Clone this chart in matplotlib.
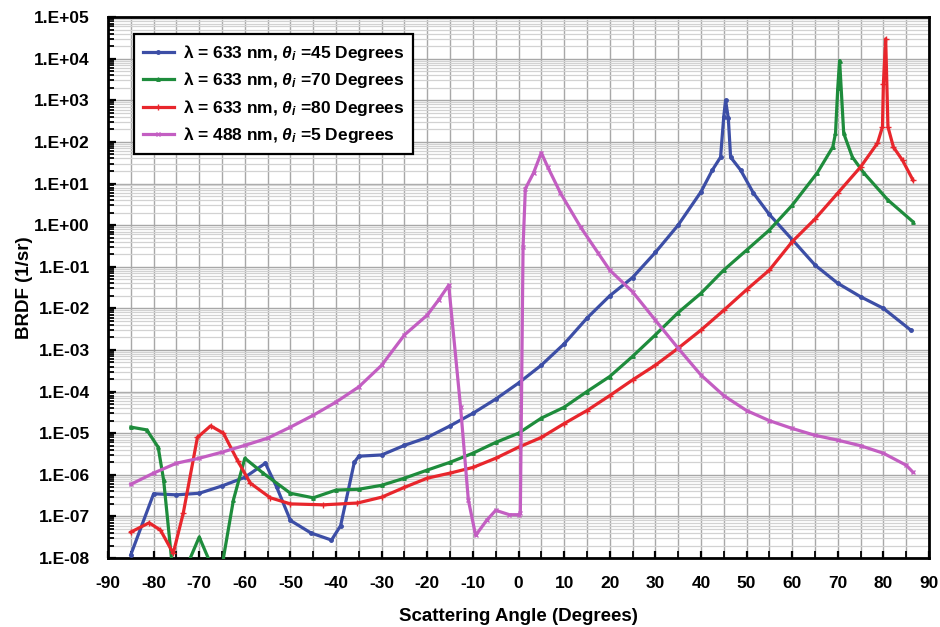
import numpy as np
import matplotlib
matplotlib.use("Agg")
import matplotlib.pyplot as plt
from matplotlib.ticker import FixedLocator, LogLocator, NullFormatter, FuncFormatter

# lambda = 633 nm, theta_i = 45
blue_x = [-85, -80, -75, -70, -65, -60, -55.5, -53, -50, -45.5, -41, -39, -36, -35, -30,
          -25, -20, -15, -10, -5, 0, 5, 10, 15, 20, 25, 30, 35, 40, 42.5, 44.3, 45, 45.4,
          46, 46.5, 48.7, 51.5, 55, 60, 65, 70, 75, 80, 86]
blue_y = [1.2e-8, 3.5e-7, 3.3e-7, 3.6e-7, 5.4e-7, 8.7e-7, 1.9e-6, 5e-7, 8e-8, 4e-8, 2.7e-8,
          6e-8, 2e-6, 2.8e-6, 3e-6, 5.1e-6, 7.9e-6, 1.5e-5, 3e-5, 6.6e-5, 1.6e-4, 4.3e-4,
          1.4e-3, 5.8e-3, 2e-2, 5.5e-2, 0.22, 1.0, 6.3, 21, 43, 400, 1000, 370, 43, 21,
          5.9, 1.8, 0.45, 0.11, 0.04, 0.019, 0.01, 3e-3]

# lambda = 633 nm, theta_i = 70
green_x = [-85, -81.5, -79, -77.8, -76, -74, -70, -66, -64.7, -62.5, -60, -56, -50, -45,
           -40, -35, -30, -25, -20, -15, -10, -5, 0, 5, 10, 15, 20, 25, 30, 35, 40, 45, 50,
           55, 60, 65.5, 68.9, 69.5, 70, 70.4, 71.3, 73.2, 75.7, 81, 86.5]
green_y = [1.4e-5, 1.2e-5, 4.6e-6, 7.4e-7, 8e-9, 3e-9, 3.2e-8, 3e-9, 1e-8, 2.5e-7, 2.5e-6,
           1.1e-6, 3.6e-7, 2.8e-7, 4.3e-7, 4.5e-7, 5.6e-7, 8.3e-7, 1.3e-6, 2e-6, 3.3e-6,
           6e-6, 1e-5, 2.3e-5, 4.2e-5, 1e-4, 2.3e-4, 7e-4, 2.3e-3, 7.9e-3, 2.3e-2, 8.3e-2,
           0.25, 0.76, 3.0, 18, 75, 160, 2000, 9000, 160, 43, 18, 4, 1.2]

# lambda = 633 nm, theta_i = 80
red_x = [-85, -81, -78.5, -75.7, -73.5, -70.4, -67.5, -64.7, -61.6, -58.8, -54.4, -50,
         -42.8, -35.3, -30, -25, -20, -15, -10, -5, 0, 5, 10, 15, 20, 25, 30, 35, 40, 45,
         50, 55, 60, 65, 70, 75, 78.7, 79.8, 80, 80.5, 81, 82.2, 84.2, 86.5]
red_y = [4.2e-8, 7e-8, 4.7e-8, 1.3e-8, 1.2e-7, 7.9e-6, 1.5e-5, 1e-5, 2.2e-6, 6.3e-7,
         2.8e-7, 2e-7, 1.9e-7, 2.1e-7, 2.9e-7, 5e-7, 8.3e-7, 1.1e-6, 1.5e-6, 2.5e-6,
         4.6e-6, 7.9e-6, 1.7e-5, 3.5e-5, 8e-5, 1.9e-4, 4.3e-4, 1.1e-3, 3e-3, 9e-3, 2.8e-2,
         8.3e-2, 0.4, 1.4, 5.9, 25, 93, 230, 2500, 30000, 230, 75, 36, 12]

# lambda = 488 nm, theta_i = 5
purple_x = [-85, -80, -75, -70, -65, -60, -55, -50, -45, -40, -35, -30, -25, -20, -17.5,
            -15.3, -12.7, -11, -9.4, -7, -5, -2, 0, 0.4, 1.0, 1.5, 3.3, 5, 6.4, 9.2, 13.6,
            17.5, 20, 25, 30, 35, 40, 45, 50, 55, 60, 65, 70, 75, 80, 85, 86.5]
purple_y = [5.9e-7, 1.1e-6, 1.9e-6, 2.5e-6, 3.5e-6, 5.1e-6, 7.6e-6, 1.4e-5, 2.7e-5,
            5.6e-5, 1.3e-4, 4.3e-4, 2.3e-3, 6.9e-3, 1.6e-2, 3.6e-2, 4.2e-5, 2.5e-7, 3.5e-8,
            8e-8, 1.4e-7, 1.1e-7, 1.1e-7, 1.2e-7, 0.3, 7.5, 18, 55, 25, 5.9, 0.9, 0.21,
            8.3e-2, 2.5e-2, 5.2e-3, 1.1e-3, 2.5e-4, 8e-5, 3.5e-5, 2e-5, 1.3e-5, 8.9e-6,
            6.8e-6, 5e-6, 3.3e-6, 1.7e-6, 1.15e-6]

labels = [r"λ = 633 nm, $\theta_i$ =45 Degrees",
          r"λ = 633 nm, $\theta_i$ =70 Degrees",
          r"λ = 633 nm, $\theta_i$ =80 Degrees",
          r"λ = 488 nm, $\theta_i$ =5 Degrees"]

plt.rcParams['font.family'] = ['Liberation Sans', 'DejaVu Sans']
plt.rcParams['font.weight'] = 'bold'
plt.rcParams['axes.unicode_minus'] = False
plt.rcParams['mathtext.fontset'] = 'custom'
plt.rcParams['mathtext.it'] = 'Liberation Sans:italic:bold'
plt.rcParams['mathtext.rm'] = 'Liberation Sans:bold'

fig = plt.figure(figsize=(9.4, 6.27), dpi=100)
ax = fig.add_axes([0.1149, 0.110, 0.8734, 0.8628])

series = [(blue_x, blue_y, '#3c4ea6', 'o', 2.5),
          (green_x, green_y, '#1e8c3c', '^', 2.5),
          (red_x, red_y, '#e8262c', '+', 4),
          (purple_x, purple_y, '#c35ec2', 'x', 3)]
for (xs, ys, c, m, ms), lab in zip(series, labels):
    ax.plot(xs, ys, color=c, lw=2.3, marker=m, ms=ms, mew=1, label=lab, zorder=3)

ax.set_yscale('log')
ax.set_xlim(-90, 90)
ax.set_ylim(1e-8, 1e5)

ax.xaxis.set_major_locator(FixedLocator(np.arange(-90, 91, 10)))
ax.xaxis.set_minor_locator(FixedLocator(np.arange(-85, 90, 10)))
ax.yaxis.set_major_locator(LogLocator(base=10, numticks=20))
ax.yaxis.set_minor_locator(LogLocator(base=10, subs=np.arange(2, 10), numticks=200))
ax.yaxis.set_minor_formatter(NullFormatter())
ax.yaxis.set_major_formatter(FuncFormatter(
    lambda v, p: "1.E{:+03d}".format(int(round(np.log10(v))))))

ax.grid(True, which='major', axis='both', color='#a8a8a8', lw=1.0, zorder=0)
ax.grid(True, which='minor', axis='x', color='#a8a8a8', lw=1.0, zorder=0)
ax.grid(True, which='minor', axis='y', color='#d2d2d2', lw=0.9, zorder=0)

ax.tick_params(which='major', direction='in', length=6, width=1.6, labelsize=12.5)
ax.tick_params(which='minor', direction='in', length=4, width=1.3)
ax.tick_params(axis='x', which='both', length=5)
ax.tick_params(axis='x', which='major', pad=13)
ax.tick_params(axis='y', which='major', pad=13)
for s in ax.spines.values():
    s.set_linewidth(2)
for t in ax.get_xticklabels() + ax.get_yticklabels():
    t.set_fontweight('bold')

ax.set_xlabel('Scattering Angle (Degrees)', fontsize=13.5, fontweight='bold', labelpad=12)
ax.set_ylabel('BRDF (1/sr)', fontsize=13.5, fontweight='bold', labelpad=1)

leg = ax.legend(loc='upper left', bbox_to_anchor=(0.021, 0.984), fontsize=12.5,
                frameon=True, fancybox=False, framealpha=1, edgecolor='black',
                handlelength=1.8, handletextpad=0.5, borderpad=0.5, labelspacing=0.42)
leg.get_frame().set_linewidth(1.6)
for t in leg.get_texts():
    t.set_fontweight('bold')

fig.savefig('out.png', dpi=100)
